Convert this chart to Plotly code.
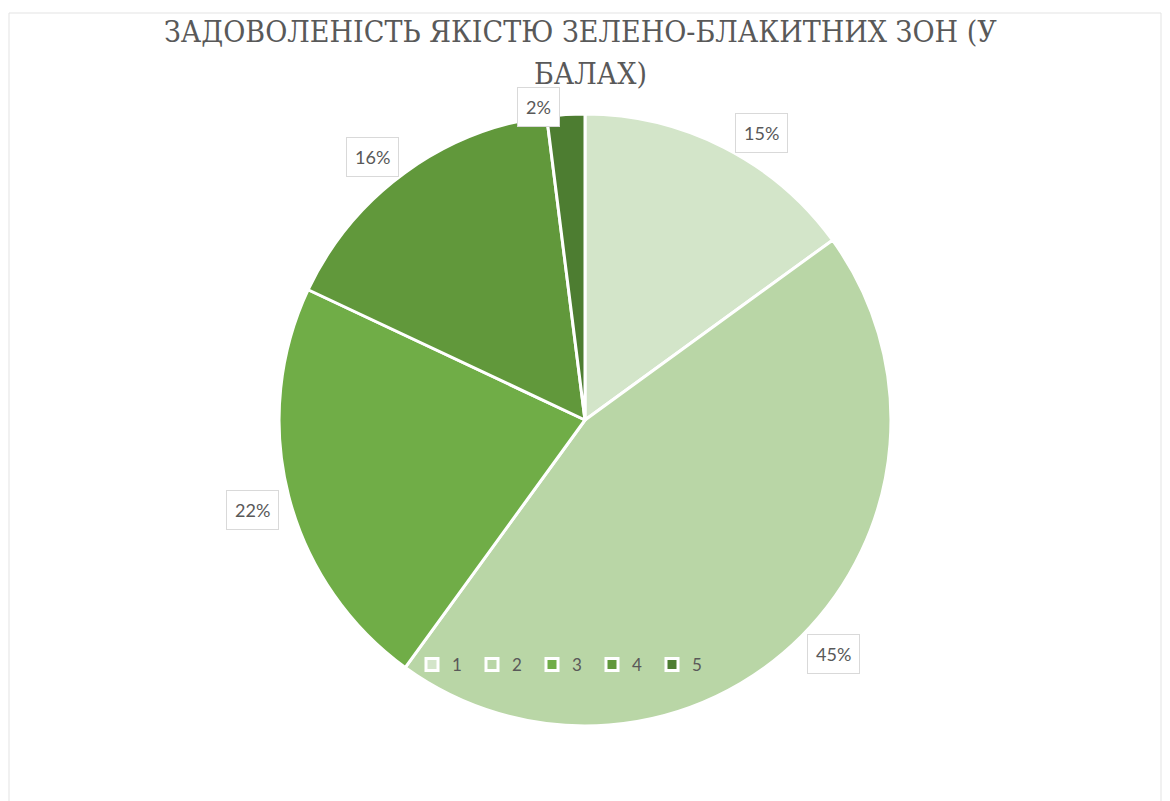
import math
import plotly.graph_objects as go

# Satisfaction scores (1-5) and their shares, %
categories = ["1", "2", "3", "4", "5"]
shares = [15, 45, 22, 16, 2]
slice_colors = ["#D3E5C9", "#B9D6A6", "#70AD47", "#61983B", "#4D7D31"]

title_lines = ["ЗАДОВОЛЕНІСТЬ ЯКІСТЮ ЗЕЛЕНО-БЛАКИТНИХ ЗОН (У", "БАЛАХ)"]

# Data-label placement ("best fit"): radial distance as a multiple of the
# pie radius and an angular nudge (degrees) from each slice's mid-angle
label_radius = [1.10, 1.115, 1.125, 1.105, 1.035]
label_nudge = [4.6, -1.7, -0.7, -2.9, -4.8]

W, H = 1170, 801
pie_x = [0.2385, 0.7615]
pie_y = [0.0936, 0.8577]

fig = go.Figure()
fig.add_trace(go.Pie(
    labels=categories,
    values=shares,
    sort=False,
    direction="clockwise",
    rotation=0,
    textinfo="none",
    hoverinfo="label+percent",
    marker=dict(colors=slice_colors, line=dict(color="white", width=3)),
    domain=dict(x=pie_x, y=pie_y),
    showlegend=True,
))

# Boxed percentage labels outside each slice
cx = (pie_x[0] + pie_x[1]) / 2 * W
cy = (1 - (pie_y[0] + pie_y[1]) / 2) * H
radius = (pie_x[1] - pie_x[0]) * W / 2
total = sum(shares)
annotations = []
acc = 0
for i, v in enumerate(shares):
    mid = (acc + v / 2) / total * 2 * math.pi + math.radians(label_nudge[i])
    acc += v
    dist = radius * label_radius[i]
    px = cx + dist * math.sin(mid)
    py = cy - dist * math.cos(mid)
    annotations.append(dict(
        x=px / W, y=1 - py / H, xref="paper", yref="paper",
        text=f"{round(v / total * 100)}%", showarrow=False,
        font=dict(family="Lato, Open Sans, sans-serif", size=18, color="#595959"),
        bgcolor="white", bordercolor="#D9D9D9", borderwidth=1, borderpad=8,
        xanchor="center", yanchor="middle",
    ))

# Two-line chart title
title_font = dict(family="DejaVu Serif Condensed, DejaVu Serif, serif", size=30, color="#595959")
annotations.append(dict(
    x=580 / W, y=1 - 32 / H, xref="paper", yref="paper", text=title_lines[0],
    showarrow=False, xanchor="center", yanchor="middle", font=title_font,
))
annotations.append(dict(
    x=590 / W, y=1 - 73 / H, xref="paper", yref="paper", text=title_lines[1],
    showarrow=False, xanchor="center", yanchor="middle", font=title_font,
))

fig.update_layout(
    width=W, height=H,
    margin=dict(l=0, r=0, t=0, b=0),
    paper_bgcolor="white",
    plot_bgcolor="white",
    annotations=annotations,
    legend=dict(
        orientation="h", x=562 / W, y=1 - 665 / H, xanchor="center", yanchor="middle",
        bgcolor="rgba(0,0,0,0)", entrywidth=15, entrywidthmode="pixels",
        font=dict(family="Lato, Open Sans, sans-serif", size=17, color="#595959"),
        traceorder="normal",
    ),
    shapes=[dict(
        type="rect", xref="paper", yref="paper",
        x0=9 / W, x1=1161 / W, y0=-0.05, y1=1 - 13 / H,
        line=dict(color="#E3E3E3", width=1), fillcolor="rgba(0,0,0,0)", layer="below",
    )],
)

fig.write_html("out.html")
